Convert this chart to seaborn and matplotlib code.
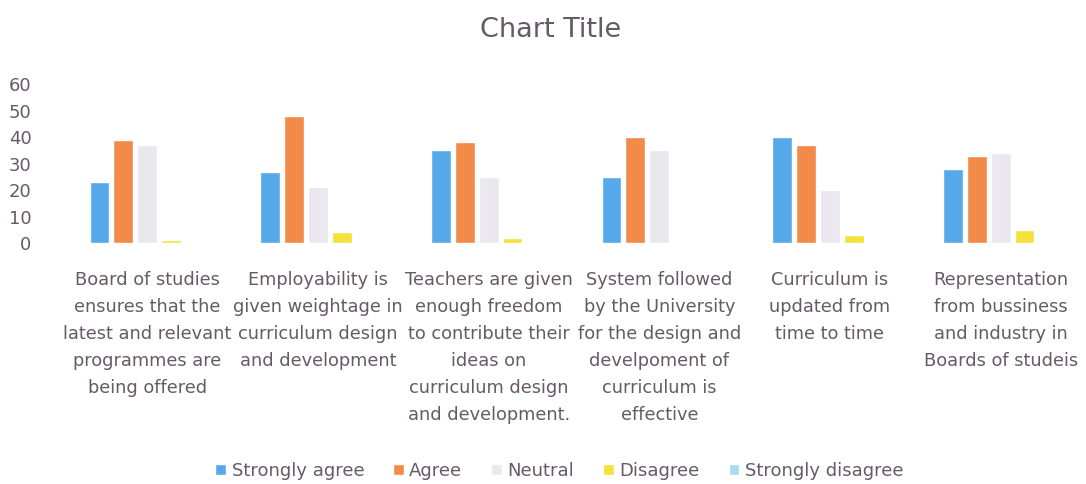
import numpy as np
import pandas as pd
import seaborn as sns
from matplotlib import pyplot as plt

# categories (x-axis statements)
statements = [
    "Board of studies\nensures that the\nlatest and relevant\nprogrammes are\nbeing offered",
    "Employability is\ngiven weightage in\ncurriculum design\nand development",
    "Teachers are given\nenough freedom\nto contribute their\nideas on\ncurriculum design\nand development.",
    "System followed\nby the University\nfor the design and\ndevelpoment of\ncurriculum is\neffective",
    "Curriculum is\nupdated from\ntime to time",
    "Representation\nfrom bussiness\nand industry in\nBoards of studeis",
]
responses = ["Strongly agree", "Agree", "Neutral", "Disagree", "Strongly disagree"]

# values, one list per response
strongly_agree = [23, 27, 35, 25, 40, 28]
agree = [39, 48, 38, 40, 37, 33]
neutral = [37, 21, 25, 35, 20, 34]
disagree = [1, 4, 2, 0, 3, 5]
strongly_disagree = [0, 0, 0, 0, 0, 0]

colors = ["#55a8ea", "#f28a4a", "#ebe7ee", "#f3e23a", "#a6dcf2"]
text_color = "#665a67"

rows = []
for resp, vals in zip(responses, [strongly_agree, agree, neutral, disagree, strongly_disagree]):
    for stmt, v in zip(statements, vals):
        rows.append({"statement": stmt, "response": resp, "count": v})
df = pd.DataFrame(rows)

sns.set_style("white")
plt.rcParams["font.family"] = ["DejaVu Sans"]

fig = plt.figure(figsize=(10.86, 4.84), dpi=100)
ax = fig.add_axes([0.057, 0.498, 0.943, 0.328])

sns.barplot(
    data=df,
    x="statement",
    y="count",
    hue="response",
    hue_order=responses,
    order=statements,
    palette=colors,
    saturation=1,
    width=0.7,
    gap=0.17,
    ax=ax,
    legend=True,
)

ax.set_ylim(0, 60)
ax.set_yticks(range(0, 61, 10))
ax.set_xlim(-0.5, len(statements) - 0.5)
ax.set_xlabel("")
ax.set_ylabel("")
ax.tick_params(axis="y", length=0, labelsize=13, labelcolor=text_color, pad=22)
ax.tick_params(axis="x", length=0, labelsize=12.8, labelcolor=text_color, pad=20)
for lbl in ax.get_xticklabels():
    lbl.set_linespacing(1.65)
    lbl.set_verticalalignment("top")
sns.despine(ax=ax, left=True, bottom=True)
ax.grid(False)

fig.suptitle("Chart Title", x=0.507, y=0.965, fontsize=19.5, color=text_color)

handles, labels = ax.get_legend_handles_labels()
ax.get_legend().remove()
fig.legend(
    handles,
    labels,
    loc="lower center",
    bbox_to_anchor=(0.515, -0.025),
    ncol=5,
    frameon=False,
    fontsize=13,
    labelcolor=text_color,
    handlelength=0.6,
    handleheight=0.6,
    handletextpad=0.3,
    columnspacing=1.6,
)

fig.savefig("out.png", dpi=100)
